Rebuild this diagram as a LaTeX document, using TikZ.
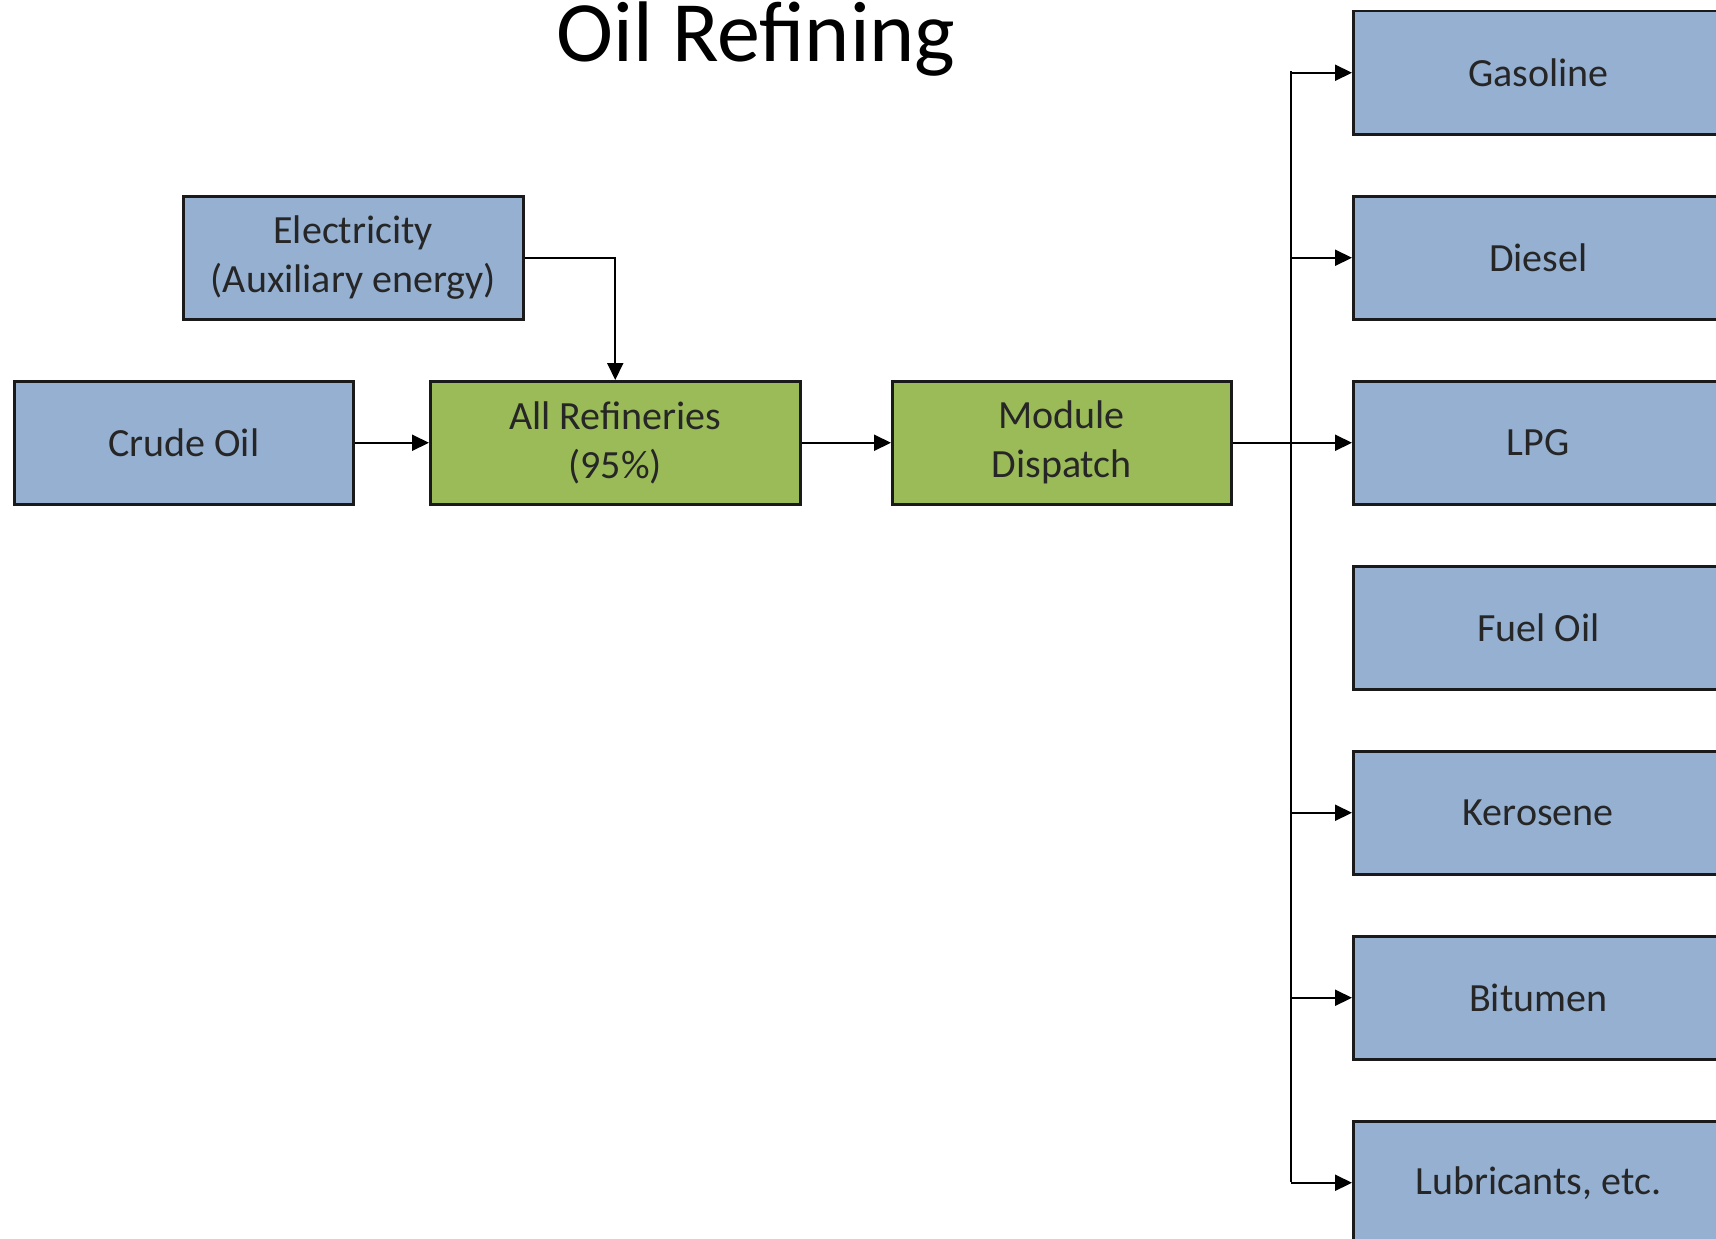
\documentclass[tikz,border=0pt]{standalone}
\usepackage{fontspec}
\setmainfont{Carlito}
\usetikzlibrary{arrows.meta}
\definecolor{boxblue}{HTML}{95B0D1}
\definecolor{boxgreen}{HTML}{9BBB59}
\definecolor{edge}{HTML}{1A1A1A}
\definecolor{ink}{HTML}{262626}
\tikzset{
  blockbox/.style={draw=edge, line width=2.5pt, anchor=north west, inner sep=0pt,
    minimum height=123pt, align=center, text=ink,
    font=\fontsize{40}{49}\selectfont},
  inbox/.style={blockbox, fill=boxblue},
  procbox/.style={blockbox, fill=boxgreen},
  flow/.style={draw=black, line width=2pt, -{Triangle[length=17pt,width=16pt]}},
  busline/.style={draw=black, line width=2pt}
}
\begin{document}
\begin{tikzpicture}[x=1pt,y=-1pt]
  \clip (0,0) rectangle (1716,1239);
  \fill[white] (0,0) rectangle (1716,1239);

  % title
  \node[anchor=base, inner sep=0pt, font=\fontsize{86}{100}\selectfont] (title) at (756,62) {Oil Refining};

  % inputs and processing chain
  \node[inbox, minimum width=340pt] (elec) at (182,195) {Electricity\\(Auxiliary energy)};
  \node[inbox, minimum width=339pt] (crude) at (13,380) {Crude Oil};
  \node[procbox, minimum width=370pt] (refine) at (429,380) {All Refineries\\(95\%)};
  \node[procbox, minimum width=339pt] (dispatch) at (891,380) {Module\\Dispatch};

  % products
  \foreach \name/\label [count=\i from 0] in {gasoline/Gasoline, diesel/Diesel, lpg/LPG,
      fueloil/Fuel Oil, kerosene/Kerosene, bitumen/Bitumen, lubricants/{Lubricants, etc.}}{
    \node[inbox, minimum width=370pt] (\name) at (1352,10+185*\i) {\label};
  }

  % connectors
  \draw[flow] (crude.east) -- (refine.west);
  \draw[flow] (refine.east) -- (dispatch.west);
  \draw[flow] (elec.east) -| (refine.north);
  \draw[flow] (dispatch.east) -- (lpg.west);

  % distribution bus
  \coordinate (bustop) at (1291,71.5);
  \coordinate (busbot) at (1291,1181.5);
  \draw[busline] (bustop) -- (busbot);
  \foreach \p in {gasoline, diesel, kerosene, bitumen, lubricants}{
    \draw[flow] (\p.west -| bustop) -- (\p.west);
  }
\end{tikzpicture}
\end{document}
